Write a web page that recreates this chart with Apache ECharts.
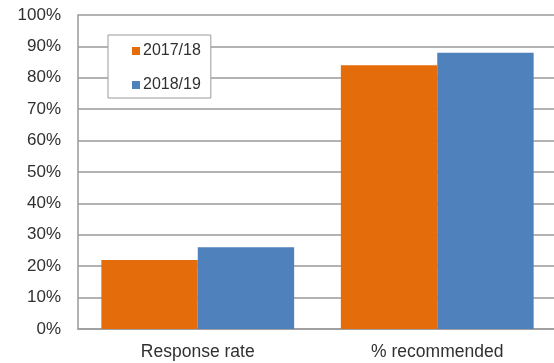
<!DOCTYPE html>
<html>
<head>
<meta charset="utf-8">
<script src="https://cdn.jsdelivr.net/npm/echarts@6/dist/echarts.min.js"></script>
<style>
  html, body { margin: 0; padding: 0; background: #fff; }
  #chart { width: 554px; height: 363px; }
</style>
</head>
<body>
<div id="chart"></div>
<script>
// Survey measures compared across two years
const categories = ['Response rate', '% recommended'];
const seriesNames = ['2017/18', '2018/19'];
const values2017 = [22, 84];
const values2018 = [26, 88];
const seriesColors = ['#E46C0A', '#4F81BD'];

const FONT = '"Liberation Sans", Arial, sans-serif';
const gridGray = '#9a9a9a';
const labelColor = '#303030';

const chart = echarts.init(document.getElementById('chart'), null, { renderer: 'canvas' });

chart.setOption({
  animation: false,
  backgroundColor: '#ffffff',
  textStyle: { fontFamily: FONT },
  // plot area runs a little past the right edge of the canvas
  grid: { left: 78, top: 15, bottom: 34, width: 479, containLabel: false, outerBoundsMode: 'none' },
  legend: {
    orient: 'vertical',
    left: 108,
    top: 35,
    padding: [8, 10, 5, 24],
    itemGap: 18,
    itemWidth: 8,
    itemHeight: 8,
    icon: 'rect',
    backgroundColor: '#ffffff',
    borderColor: gridGray,
    borderWidth: 1,
    textStyle: { fontFamily: FONT, fontSize: 16, color: labelColor, lineHeight: 16, padding: [0, 0, 0, -2] },
    data: seriesNames
  },
  xAxis: {
    type: 'category',
    data: categories,
    axisLine: { show: true, lineStyle: { color: gridGray, width: 1.5 } },
    axisTick: { show: false },
    axisLabel: { fontFamily: FONT, fontSize: 17.5, color: labelColor, margin: 14 }
  },
  yAxis: {
    type: 'value',
    min: 0,
    max: 100,
    interval: 10,
    axisLine: { show: true, lineStyle: { color: gridGray, width: 1.5 } },
    axisTick: { show: false },
    splitLine: { show: true, lineStyle: { color: gridGray, width: 1.5 } },
    axisLabel: { fontFamily: FONT, fontSize: 17, color: labelColor, margin: 17, formatter: '{value}%' }
  },
  series: [
    {
      name: seriesNames[0],
      type: 'bar',
      data: values2017,
      barGap: '0%',
      barCategoryGap: '19.5%',
      itemStyle: { color: seriesColors[0] }
    },
    {
      name: seriesNames[1],
      type: 'bar',
      data: values2018,
      barGap: '0%',
      barCategoryGap: '19.5%',
      itemStyle: { color: seriesColors[1] }
    }
  ]
});
</script>
</body>
</html>
